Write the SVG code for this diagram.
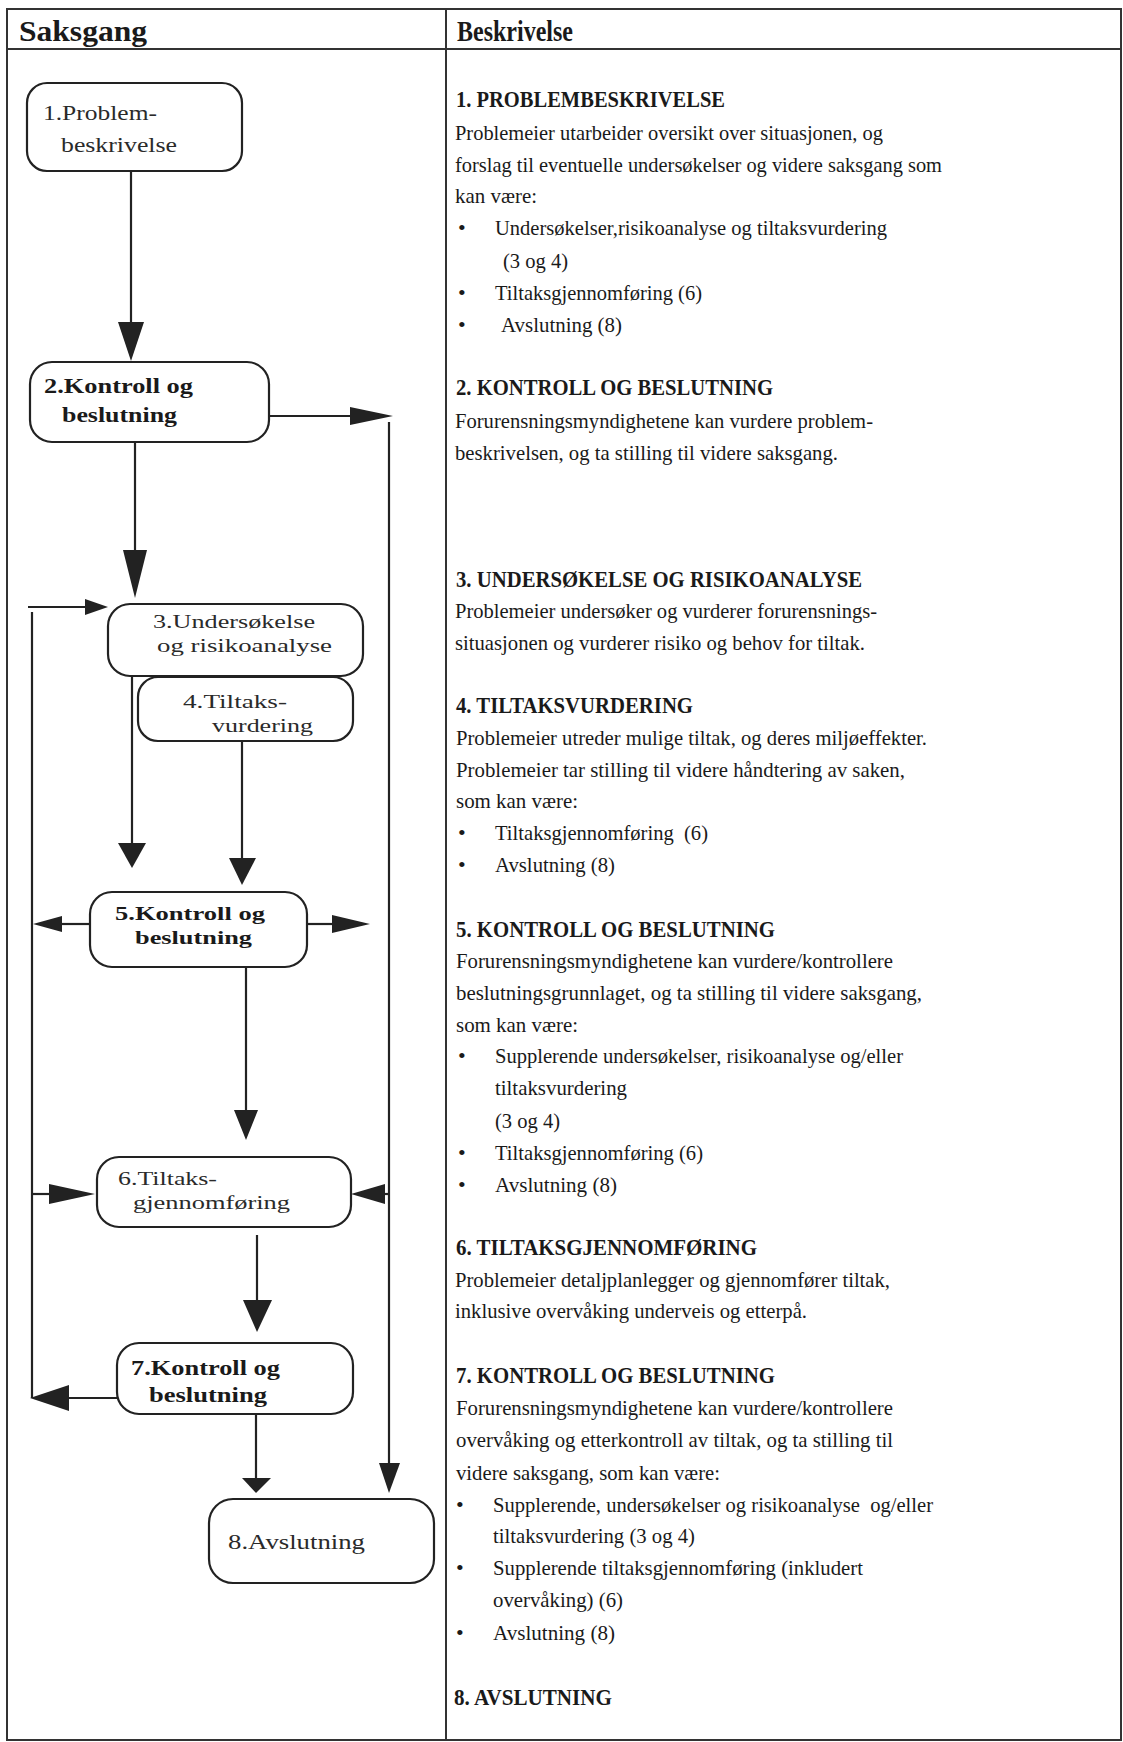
<svg xmlns="http://www.w3.org/2000/svg" width="1123" height="1742" viewBox="0 0 1123 1742">
<style>
.frame{fill:none;stroke:#333;stroke-width:2}
.box{fill:#fff;stroke:#222;stroke-width:2.2}
.ln{fill:none;stroke:#222;stroke-width:2.2}
.ah{fill:#222;stroke:none}
.hd{font-family:"Liberation Serif","Times New Roman",serif;font-weight:bold;font-size:30px;fill:#1a1a1a}
.h2{font-family:"Liberation Serif","Times New Roman",serif;font-weight:bold;font-size:24px;fill:#1a1a1a}
.tx{font-family:"Liberation Serif","Times New Roman",serif;font-size:22px;fill:#1a1a1a}
.bx{font-family:"Liberation Serif","Times New Roman",serif;font-size:22px;fill:#2a2a2a}
.bs{font-family:"Liberation Serif","Times New Roman",serif;font-size:19px;fill:#2a2a2a}
.bb{font-family:"Liberation Serif","Times New Roman",serif;font-weight:bold;font-size:22px;fill:#1a1a1a}
.bbs{font-family:"Liberation Serif","Times New Roman",serif;font-weight:bold;font-size:19px;fill:#1a1a1a}
</style>
<rect width="1123" height="1742" fill="#fff"/>
<g id="table">
<rect class="frame" x="7" y="9" width="1114" height="1731"/>
<line class="frame" x1="7" y1="49" x2="1121" y2="49"/>
<line class="frame" x1="446" y1="9" x2="446" y2="1740"/>
<text class="hd" x="19" y="41" textLength="128" lengthAdjust="spacingAndGlyphs">Saksgang</text>
<text class="hd" x="457" y="41" textLength="116" lengthAdjust="spacingAndGlyphs">Beskrivelse</text>
</g>
<g id="connectors">
<line class="ln" x1="131" y1="171" x2="131" y2="326"/>
<polygon class="ah" points="118,322 144,322 131,361"/>
<line class="ln" x1="269" y1="416" x2="352" y2="416"/>
<polygon class="ah" points="350,407 350,425 393,416"/>
<line class="ln" x1="389" y1="422" x2="389" y2="1466"/>
<polygon class="ah" points="379,1463 400,1463 389,1493"/>
<line class="ln" x1="135" y1="442" x2="135" y2="553"/>
<polygon class="ah" points="123,550 147,550 135,598"/>
<line class="ln" x1="28" y1="607" x2="88" y2="607"/>
<polygon class="ah" points="85,599 85,615 108,607"/>
<line class="ln" x1="32" y1="612" x2="32" y2="1398"/>
<line class="ln" x1="132" y1="676" x2="132" y2="846"/>
<polygon class="ah" points="118,843 146,843 132,868"/>
<line class="ln" x1="242" y1="741" x2="242" y2="861"/>
<polygon class="ah" points="229,858 256,858 242,885"/>
<line class="ln" x1="90" y1="924" x2="60" y2="924"/>
<polygon class="ah" points="62,916 62,932 33,924"/>
<line class="ln" x1="307" y1="924" x2="335" y2="924"/>
<polygon class="ah" points="332,915 332,933 370,924"/>
<line class="ln" x1="246" y1="967" x2="246" y2="1113"/>
<polygon class="ah" points="234,1110 258,1110 246,1140"/>
<line class="ln" x1="32" y1="1194" x2="52" y2="1194"/>
<polygon class="ah" points="49,1184 49,1204 95,1194"/>
<line class="ln" x1="389" y1="1194" x2="382" y2="1194"/>
<polygon class="ah" points="385,1184 385,1204 351,1194"/>
<line class="ln" x1="257" y1="1235" x2="257" y2="1303"/>
<polygon class="ah" points="243,1300 272,1300 257,1332"/>
<line class="ln" x1="117" y1="1398" x2="66" y2="1398"/>
<polygon class="ah" points="69,1385 69,1411 30,1398"/>
<line class="ln" x1="256" y1="1414" x2="256" y2="1480"/>
<polygon class="ah" points="242,1478 271,1478 256,1493"/>
</g>
<g id="node1">
<rect class="box" x="27" y="83" width="215" height="88" rx="20"/>
<text class="bx" x="43" y="120" textLength="114" lengthAdjust="spacingAndGlyphs">1.Problem-</text>
<text class="bx" x="61" y="152" textLength="116" lengthAdjust="spacingAndGlyphs">beskrivelse</text>
</g>
<g id="node2">
<rect class="box" x="30" y="362" width="239" height="80" rx="22"/>
<text class="bb" x="44" y="393" textLength="149" lengthAdjust="spacingAndGlyphs">2.Kontroll og</text>
<text class="bb" x="62" y="422" textLength="115" lengthAdjust="spacingAndGlyphs">beslutning</text>
</g>
<g id="node3">
<rect class="box" x="108" y="604" width="255" height="72" rx="22"/>
<text class="bs" x="153" y="628" textLength="162" lengthAdjust="spacingAndGlyphs">3.Undersøkelse</text>
<text class="bs" x="157" y="652" textLength="175" lengthAdjust="spacingAndGlyphs">og risikoanalyse</text>
</g>
<g id="node4">
<rect class="box" x="138" y="677" width="215" height="64" rx="20"/>
<text class="bs" x="183" y="708" textLength="104" lengthAdjust="spacingAndGlyphs">4.Tiltaks-</text>
<text class="bs" x="212" y="732" textLength="101" lengthAdjust="spacingAndGlyphs">vurdering</text>
</g>
<g id="node5">
<rect class="box" x="90" y="892" width="217" height="75" rx="22"/>
<text class="bbs" x="115" y="920" textLength="150" lengthAdjust="spacingAndGlyphs">5.Kontroll og</text>
<text class="bbs" x="135" y="944" textLength="117" lengthAdjust="spacingAndGlyphs">beslutning</text>
</g>
<g id="node6">
<rect class="box" x="97" y="1157" width="254" height="70" rx="22"/>
<text class="bs" x="118" y="1185" textLength="99" lengthAdjust="spacingAndGlyphs">6.Tiltaks-</text>
<text class="bs" x="133" y="1209" textLength="157" lengthAdjust="spacingAndGlyphs">gjennomføring</text>
</g>
<g id="node7">
<rect class="box" x="117" y="1343" width="236" height="71" rx="22"/>
<text class="bb" x="131" y="1375" textLength="149" lengthAdjust="spacingAndGlyphs">7.Kontroll og</text>
<text class="bb" x="149" y="1402" textLength="118" lengthAdjust="spacingAndGlyphs">beslutning</text>
</g>
<g id="node8">
<rect class="box" x="209" y="1499" width="225" height="84" rx="24"/>
<text class="bx" x="228" y="1549" textLength="137" lengthAdjust="spacingAndGlyphs">8.Avslutning</text>
</g>
<g id="description">
<text class="h2" x="456" y="107" textLength="269" lengthAdjust="spacingAndGlyphs">1. PROBLEMBESKRIVELSE</text>
<text class="tx" x="455" y="140" textLength="428" lengthAdjust="spacingAndGlyphs">Problemeier utarbeider oversikt over situasjonen, og</text>
<text class="tx" x="455" y="172" textLength="487" lengthAdjust="spacingAndGlyphs">forslag til eventuelle undersøkelser og videre saksgang som</text>
<text class="tx" x="455" y="203" textLength="82" lengthAdjust="spacingAndGlyphs">kan være:</text>
<text class="tx" x="458" y="235">•</text>
<text class="tx" x="495" y="235" textLength="392" lengthAdjust="spacingAndGlyphs">Undersøkelser,risikoanalyse og tiltaksvurdering</text>
<text class="tx" x="503" y="268" textLength="65" lengthAdjust="spacingAndGlyphs">(3 og 4)</text>
<text class="tx" x="458" y="300">•</text>
<text class="tx" x="495" y="300" textLength="207" lengthAdjust="spacingAndGlyphs">Tiltaksgjennomføring (6)</text>
<text class="tx" x="458" y="332">•</text>
<text class="tx" x="501" y="332" textLength="121" lengthAdjust="spacingAndGlyphs">Avslutning (8)</text>

<text class="h2" x="456" y="395" textLength="317" lengthAdjust="spacingAndGlyphs">2. KONTROLL OG BESLUTNING</text>
<text class="tx" x="455" y="428" textLength="418" lengthAdjust="spacingAndGlyphs">Forurensningsmyndighetene kan vurdere problem-</text>
<text class="tx" x="455" y="460" textLength="383" lengthAdjust="spacingAndGlyphs">beskrivelsen, og ta stilling til videre saksgang.</text>

<text class="h2" x="456" y="587" textLength="406" lengthAdjust="spacingAndGlyphs">3. UNDERSØKELSE OG RISIKOANALYSE</text>
<text class="tx" x="455" y="618" textLength="422" lengthAdjust="spacingAndGlyphs">Problemeier undersøker og vurderer forurensnings-</text>
<text class="tx" x="455" y="650" textLength="410" lengthAdjust="spacingAndGlyphs">situasjonen og vurderer risiko og behov for tiltak.</text>

<text class="h2" x="456" y="713" textLength="237" lengthAdjust="spacingAndGlyphs">4. TILTAKSVURDERING</text>
<text class="tx" x="456" y="745" textLength="471" lengthAdjust="spacingAndGlyphs">Problemeier utreder mulige tiltak, og deres miljøeffekter.</text>
<text class="tx" x="456" y="777" textLength="449" lengthAdjust="spacingAndGlyphs">Problemeier tar stilling til videre håndtering av saken,</text>
<text class="tx" x="456" y="808" textLength="122" lengthAdjust="spacingAndGlyphs">som kan være:</text>
<text class="tx" x="458" y="840">•</text>
<text class="tx" x="495" y="840" textLength="213" lengthAdjust="spacingAndGlyphs" xml:space="preserve">Tiltaksgjennomføring  (6)</text>
<text class="tx" x="458" y="872">•</text>
<text class="tx" x="495" y="872" textLength="120" lengthAdjust="spacingAndGlyphs">Avslutning (8)</text>

<text class="h2" x="456" y="937" textLength="319" lengthAdjust="spacingAndGlyphs">5. KONTROLL OG BESLUTNING</text>
<text class="tx" x="456" y="968" textLength="437" lengthAdjust="spacingAndGlyphs">Forurensningsmyndighetene kan vurdere/kontrollere</text>
<text class="tx" x="456" y="1000" textLength="466" lengthAdjust="spacingAndGlyphs">beslutningsgrunnlaget, og ta stilling til videre saksgang,</text>
<text class="tx" x="456" y="1032" textLength="122" lengthAdjust="spacingAndGlyphs">som kan være:</text>
<text class="tx" x="458" y="1063">•</text>
<text class="tx" x="495" y="1063" textLength="408" lengthAdjust="spacingAndGlyphs">Supplerende undersøkelser, risikoanalyse og/eller</text>
<text class="tx" x="495" y="1095" textLength="132" lengthAdjust="spacingAndGlyphs">tiltaksvurdering</text>
<text class="tx" x="495" y="1128" textLength="65" lengthAdjust="spacingAndGlyphs">(3 og 4)</text>
<text class="tx" x="458" y="1160">•</text>
<text class="tx" x="495" y="1160" textLength="208" lengthAdjust="spacingAndGlyphs">Tiltaksgjennomføring (6)</text>
<text class="tx" x="458" y="1192">•</text>
<text class="tx" x="495" y="1192" textLength="122" lengthAdjust="spacingAndGlyphs">Avslutning (8)</text>

<text class="h2" x="456" y="1255" textLength="301" lengthAdjust="spacingAndGlyphs">6. TILTAKSGJENNOMFØRING</text>
<text class="tx" x="455" y="1287" textLength="435" lengthAdjust="spacingAndGlyphs">Problemeier detaljplanlegger og gjennomfører tiltak,</text>
<text class="tx" x="455" y="1318" textLength="352" lengthAdjust="spacingAndGlyphs">inklusive overvåking underveis og etterpå.</text>

<text class="h2" x="456" y="1383" textLength="319" lengthAdjust="spacingAndGlyphs">7. KONTROLL OG BESLUTNING</text>
<text class="tx" x="456" y="1415" textLength="437" lengthAdjust="spacingAndGlyphs">Forurensningsmyndighetene kan vurdere/kontrollere</text>
<text class="tx" x="456" y="1447" textLength="437" lengthAdjust="spacingAndGlyphs">overvåking og etterkontroll av tiltak, og ta stilling til</text>
<text class="tx" x="456" y="1480" textLength="264" lengthAdjust="spacingAndGlyphs">videre saksgang, som kan være:</text>
<text class="tx" x="456" y="1512">•</text>
<text class="tx" x="493" y="1512" textLength="440" lengthAdjust="spacingAndGlyphs" xml:space="preserve">Supplerende, undersøkelser og risikoanalyse  og/eller</text>
<text class="tx" x="493" y="1543" textLength="202" lengthAdjust="spacingAndGlyphs">tiltaksvurdering (3 og 4)</text>
<text class="tx" x="456" y="1575">•</text>
<text class="tx" x="493" y="1575" textLength="370" lengthAdjust="spacingAndGlyphs">Supplerende tiltaksgjennomføring (inkludert</text>
<text class="tx" x="493" y="1607" textLength="130" lengthAdjust="spacingAndGlyphs">overvåking) (6)</text>
<text class="tx" x="456" y="1640">•</text>
<text class="tx" x="493" y="1640" textLength="122" lengthAdjust="spacingAndGlyphs">Avslutning (8)</text>

<text class="h2" x="454" y="1705" textLength="158" lengthAdjust="spacingAndGlyphs">8. AVSLUTNING</text>
</g>
</svg>
